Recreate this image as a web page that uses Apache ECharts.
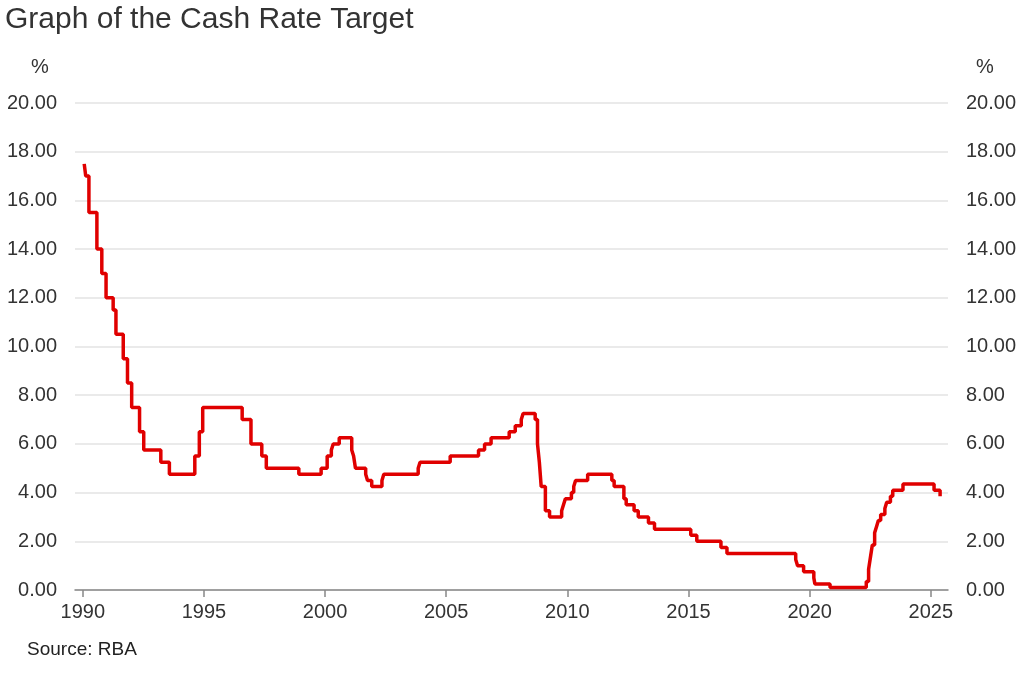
<!DOCTYPE html>
<html lang="en">
  <head>
    <meta charset="UTF-8" />
    <title>Graph of the Cash Rate Target</title>
    <script src="https://cdn.jsdelivr.net/npm/echarts@6/dist/echarts.min.js"></script>
    <style>
      html,
      body {
        margin: 0;
        padding: 0;
        background: #fff;
      }
      #chart {
        width: 1024px;
        height: 683px;
      }
    </style>
  </head>
  <body>
    <div id="chart"></div>

    <script>
      // dates on which the cash rate target changed, and the new target (%)
      var changeDates = [
        "1990-01-23", "1990-02-15", "1990-04-04", "1990-08-02", "1990-10-15",
        "1990-12-18", "1991-04-04", "1991-05-16", "1991-09-03", "1991-11-06",
        "1992-01-08", "1992-05-06", "1992-07-08", "1993-03-23", "1993-07-30",
        "1994-08-17", "1994-10-24", "1994-12-14", "1996-07-31", "1996-12-11",
        "1997-05-23", "1997-07-30", "1998-12-02", "1999-11-03", "2000-02-02",
        "2000-04-05", "2000-05-03", "2000-08-02", "2001-02-07", "2001-03-07",
        "2001-04-04", "2001-09-05", "2001-10-03", "2001-12-05", "2002-05-08",
        "2002-06-05", "2003-11-05", "2003-12-03", "2005-03-02", "2006-05-03",
        "2006-08-02", "2006-11-08", "2007-08-08", "2007-11-07", "2008-02-06",
        "2008-03-05", "2008-09-03", "2008-10-08", "2008-11-05", "2008-12-03",
        "2009-02-04", "2009-04-08", "2009-10-07", "2009-11-04", "2009-12-02",
        "2010-03-03", "2010-04-07", "2010-05-05", "2010-11-03", "2011-11-02",
        "2011-12-07", "2012-05-02", "2012-06-06", "2012-10-03", "2012-12-05",
        "2013-05-08", "2013-08-07", "2015-02-04", "2015-05-06", "2016-05-04",
        "2016-08-03", "2019-06-05", "2019-07-03", "2019-10-02", "2020-03-04",
        "2020-03-20", "2020-11-04", "2022-05-04", "2022-06-08", "2022-07-06",
        "2022-08-03", "2022-09-07", "2022-10-05", "2022-11-02", "2022-12-07",
        "2023-02-08", "2023-03-08", "2023-05-03", "2023-06-07", "2023-11-08",
        "2025-02-19", "2025-05-21"
      ];
      var cashRates = [
        17.5, 17.0, 15.5, 14.0, 13.0,
        12.0, 11.5, 10.5, 9.5, 8.5,
        7.5, 6.5, 5.75, 5.25, 4.75,
        5.5, 6.5, 7.5, 7.0, 6.0,
        5.5, 5.0, 4.75, 5.0, 5.5,
        5.75, 6.0, 6.25, 5.75, 5.5,
        5.0, 4.75, 4.5, 4.25, 4.5,
        4.75, 5.0, 5.25, 5.5, 5.75,
        6.0, 6.25, 6.5, 6.75, 7.0,
        7.25, 7.0, 6.0, 5.25, 4.25,
        3.25, 3.0, 3.25, 3.5, 3.75,
        4.0, 4.25, 4.5, 4.75, 4.5,
        4.25, 3.75, 3.5, 3.25, 3.0,
        2.75, 2.5, 2.25, 2.0, 1.75,
        1.5, 1.25, 1.0, 0.75, 0.5,
        0.25, 0.1, 0.35, 0.85, 1.35,
        1.85, 2.35, 2.6, 2.85, 3.1,
        3.35, 3.6, 3.85, 4.1, 4.35,
        4.1, 3.85
      ];
      var yearTicks = [1990, 1995, 2000, 2005, 2010, 2015, 2020, 2025];

      var fontFamily = "'Liberation Sans', Arial, Helvetica, sans-serif";

      // date string -> decimal year
      function toYear(s) {
        var d = new Date(s + "T00:00:00Z");
        var y = d.getUTCFullYear();
        var start = Date.UTC(y, 0, 1);
        var end = Date.UTC(y + 1, 0, 1);
        return y + (d.getTime() - start) / (end - start);
      }

      var seriesData = changeDates.map(function (d, i) {
        return [toYear(d), cashRates[i]];
      });

      var chart = echarts.init(document.getElementById("chart"));

      var valueAxis = {
        type: "value",
        min: 0,
        max: 20,
        interval: 2,
        name: "%",
        nameLocation: "end",
        nameGap: 26,
        axisLine: { show: false },
        axisTick: { show: false },
        axisLabel: {
          margin: 18,
          color: "#333",
          fontSize: 20,
          fontFamily: fontFamily,
          formatter: function (v) {
            return v.toFixed(2);
          },
        },
      };

      var option = {
        animation: false,
        title: {
          text: "Graph of the Cash Rate Target",
          left: 0,
          top: 0,
          textStyle: {
            color: "#333",
            fontSize: 30,
            fontWeight: "normal",
            fontFamily: fontFamily,
          },
        },
        graphic: [
          {
            type: "text",
            left: 27,
            top: 640,
            style: {
              text: "Source: RBA",
              fill: "#222",
              font: "19px " + fontFamily,
            },
          },
        ],
        grid: {
          left: 75,
          right: 76,
          top: 103,
          bottom: 93,
        },
        xAxis: {
          type: "value",
          min: 1989.68,
          max: 2025.71,
          splitLine: { show: false },
          axisLine: { lineStyle: { color: "#888", width: 1.5 } },
          axisTick: {
            customValues: yearTicks,
            length: 7,
            lineStyle: { color: "#888", width: 1.5 },
          },
          axisLabel: {
            customValues: yearTicks,
            margin: 12,
            color: "#333",
            fontSize: 20,
            fontFamily: fontFamily,
            formatter: function (v) {
              return String(Math.round(v));
            },
          },
        },
        yAxis: [
          Object.assign({}, valueAxis, {
            position: "left",
            nameTextStyle: {
              color: "#333",
              fontSize: 20,
              fontFamily: fontFamily,
              padding: [0, 70, 0, 0],
            },
            splitLine: { lineStyle: { color: "#e3e3e3", width: 1.5 } },
          }),
          Object.assign({}, valueAxis, {
            position: "right",
            nameTextStyle: {
              color: "#333",
              fontSize: 20,
              fontFamily: fontFamily,
              padding: [0, 0, 0, 74],
            },
            splitLine: { show: false },
          }),
        ],
        series: [
          {
            name: "Cash Rate Target",
            type: "line",
            step: "end",
            showSymbol: false,
            yAxisIndex: 0,
            data: seriesData,
            lineStyle: { color: "#e00000", width: 3.5 },
          },
        ],
      };

      chart.setOption(option);
    </script>
  </body>
</html>
